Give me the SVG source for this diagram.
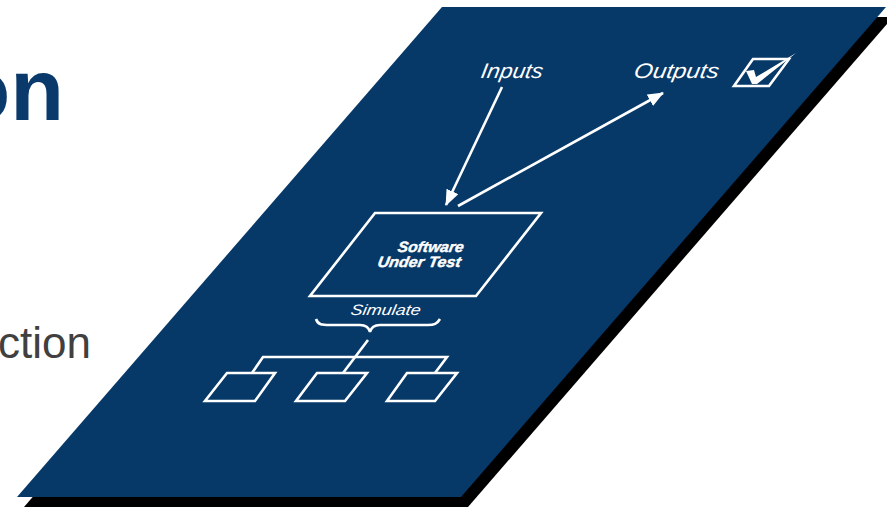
<svg xmlns="http://www.w3.org/2000/svg" width="887" height="508" viewBox="0 0 887 508">
<defs>
<style>
.w{fill:none;stroke:#fff;stroke-width:2.6;stroke-linejoin:miter}
.lbl{fill:#fff;font-family:"Liberation Sans",Arial,sans-serif;font-style:italic}
</style>
<marker id="ah" markerUnits="userSpaceOnUse" markerWidth="18" markerHeight="14" refX="15" refY="6.5" orient="auto">
<path d="M0,0 L16,6.5 L0,13 z" fill="#fff"/>
</marker>
</defs>
<rect width="887" height="508" fill="#fff"/>
<text x="64" y="120" font-family="Liberation Sans,Arial,sans-serif" font-weight="bold" font-size="88" fill="#0a3a6b" text-anchor="end">on</text>
<text x="91" y="358" font-family="Liberation Sans,Arial,sans-serif" font-size="44" fill="#404040" text-anchor="end">ction</text>
<g id="plane">
<polygon points="449,17 893,17 468,507 24,507" fill="#000"/>
<polygon points="442,7 886,7 461,497 17,497" fill="#063868"/>
</g>
<g id="connectors">
<line class="w" x1="502" y1="87" x2="446" y2="205" marker-end="url(#ah)"/>
<line class="w" x1="458" y1="206" x2="663" y2="93" marker-end="url(#ah)"/>
<path class="w" d="M316,319 C318,325 322,325 330,325 L360,325 C366,325 369,328 370,332 C371,328 374,325 380,325 L428,325 C434,325 437,324 440,319"/>
<line class="w" x1="368" y1="340" x2="343" y2="373"/>
<polyline class="w" points="252,373 263,357 447,357 435,373"/>
</g>
<g id="inputs"><text class="lbl" transform="translate(480,78) skewX(-10)" font-size="21" textLength="62" lengthAdjust="spacingAndGlyphs">Inputs</text></g>
<g id="outputs"><text class="lbl" transform="translate(633,78) skewX(-10)" font-size="21" textLength="85" lengthAdjust="spacingAndGlyphs">Outputs</text></g>
<g id="checkbox">
<polygon class="w" stroke-width="3" points="753,59 789,59 769,86 734,86"/>
<polygon points="746,71 754,70 756,77 796,53 757,84 752,84" fill="#fff"/>
</g>
<g id="sut">
<polygon class="w" stroke-width="3" points="375,213 541,213 476,296 310,296"/>
<text class="lbl" font-weight="bold" font-size="15" transform="translate(397,252) skewX(-10)" textLength="66" lengthAdjust="spacingAndGlyphs" stroke="#fff" stroke-width="0.4">Software</text>
<text class="lbl" font-weight="bold" font-size="15" transform="translate(377,267) skewX(-10)" textLength="83" lengthAdjust="spacingAndGlyphs" stroke="#fff" stroke-width="0.4">Under Test</text>
</g>
<g id="simulate"><text class="lbl" transform="translate(350,315) skewX(-10)" font-size="15" textLength="70" lengthAdjust="spacingAndGlyphs">Simulate</text></g>
<g id="box1"><polygon class="w" points="227,373 275,373 255,401 205,401"/></g>
<g id="box2"><polygon class="w" points="317,373 367,373 345,401 296,401"/></g>
<g id="box3"><polygon class="w" points="407,373 457,373 435,401 387,401"/></g>
</svg>
